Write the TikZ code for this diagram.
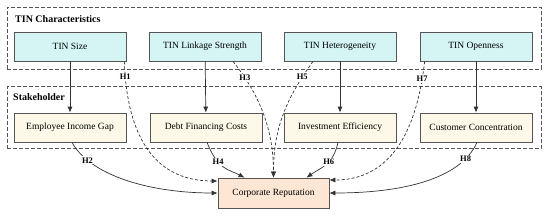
\documentclass[tikz,border=0pt]{standalone}
\usepackage{fontspec}
\setmainfont{Liberation Serif}
\usetikzlibrary{arrows.meta}

\begin{document}
\begin{tikzpicture}[x=1pt, y=-1pt,
  box/.style={draw=lineGray, line width=0.7pt, minimum width=112pt, minimum height=29pt,
    inner sep=0pt, font=\fontsize{9.5}{11}\selectfont},
  tinbox/.style={box, fill=colTin},
  stakebox/.style={box, fill=colStake},
  groupbox/.style={draw=lineGray, line width=0.7pt, dash pattern=on 4pt off 2pt,
    minimum width=534pt, minimum height=62pt, inner sep=0pt},
  grouptitle/.style={anchor=west, inner sep=0pt, font=\fontsize{10}{12}\selectfont\bfseries},
  link/.style={draw=lineDark, line width=0.7pt, -{Latex[length=6pt,width=5pt]}},
  hyp/.style={link, dash pattern=on 3pt off 2pt},
  hlabel/.style={fill=white, inner sep=1pt, font=\fontsize{8.5}{10}\selectfont\bfseries}
]

% Colori
\definecolor{colTin}{HTML}{D5F5F5}
\definecolor{colStake}{HTML}{FDF8E7}
\definecolor{colRep}{HTML}{FDE6D4}
\definecolor{lineGray}{HTML}{555555}
\definecolor{lineDark}{HTML}{333333}

\useasboundingbox (0,0) rectangle (550,215);

% Gruppi tratteggiati
\node[groupbox] (gtin) at (274,38) {};
\node[grouptitle] (ttin) at (15,19) {TIN Characteristics};
\node[groupbox] (gstake) at (274,117.5) {};
\node[grouptitle] (tstake) at (13,97.5) {Stakeholder};

% Caratteristiche TIN
\node[tinbox] (tsize) at (70,46.5) {TIN Size};
\node[tinbox] (tlink) at (205,46.5) {TIN Linkage Strength};
\node[tinbox] (thet) at (340,46.5) {TIN Heterogeneity};
\node[tinbox] (topen) at (476,46.5) {TIN Openness};

% Stakeholder
\node[stakebox] (eig) at (70,127.5) {Employee Income Gap};
\node[stakebox] (debt) at (206,127.5) {Debt Financing Costs};
\node[stakebox] (inv) at (340,127.5) {Investment Efficiency};
\node[stakebox] (cc) at (476,127.5) {Customer Concentration};

% Reputazione
\node[box, minimum width=111pt, minimum height=30pt, fill=colRep] (cr) at (273.5,193) {Corporate Reputation};

% Frecce verticali
\draw[link] (tsize) -- (eig);
\draw[link] (tlink) -- (debt);
\draw[link] (thet) -- (inv);
\draw[link] (topen) -- (cc);

% Ipotesi dirette (tratteggiate)
\draw[hyp] ([xshift=-2pt]tsize.south east) .. controls +(3,89) and +(-53,0) .. ([yshift=12pt]cr.west)
  node[hlabel, pos=0.06] (h1) {H1};
\draw[hyp] ([xshift=28pt]tlink.south) .. controls +(27,34) and +(0,-48) .. (cr.north)
  node[hlabel, pos=0.16] (h3) {H3};
\draw[hyp] ([xshift=-27pt]thet.south) .. controls +(-28,39) and +(0,-48) .. (cr.north)
  node[hlabel, pos=0.14] (h5) {H5};
\draw[hyp] ([xshift=5pt]topen.south west) .. controls +(-10,89) and +(49,0) .. ([yshift=13pt]cr.east)
  node[hlabel, pos=0.07] (h7) {H7};

% Ipotesi via stakeholder
\draw[link] ([xshift=2pt]eig.south) .. controls +(18,33) and +(-68,0) .. (cr.west)
  node[hlabel, pos=0.2] (h2) {H2};
\draw[link] ([xshift=1pt]debt.south) .. controls +(11,28) and +(-15,-8) .. ([xshift=-29pt]cr.north)
  node[hlabel, pos=0.33] (h4) {H4};
\draw[link] ([xshift=-2pt]inv.south) .. controls +(-5,23) and +(14,-10) .. ([xshift=33pt]cr.north)
  node[hlabel, pos=0.4] (h6) {H6};
\draw[link] ([xshift=1pt]cc.south) .. controls +(-17,38) and +(70,0) .. (cr.east)
  node[hlabel, pos=0.16] (h8) {H8};

\end{tikzpicture}
\end{document}
